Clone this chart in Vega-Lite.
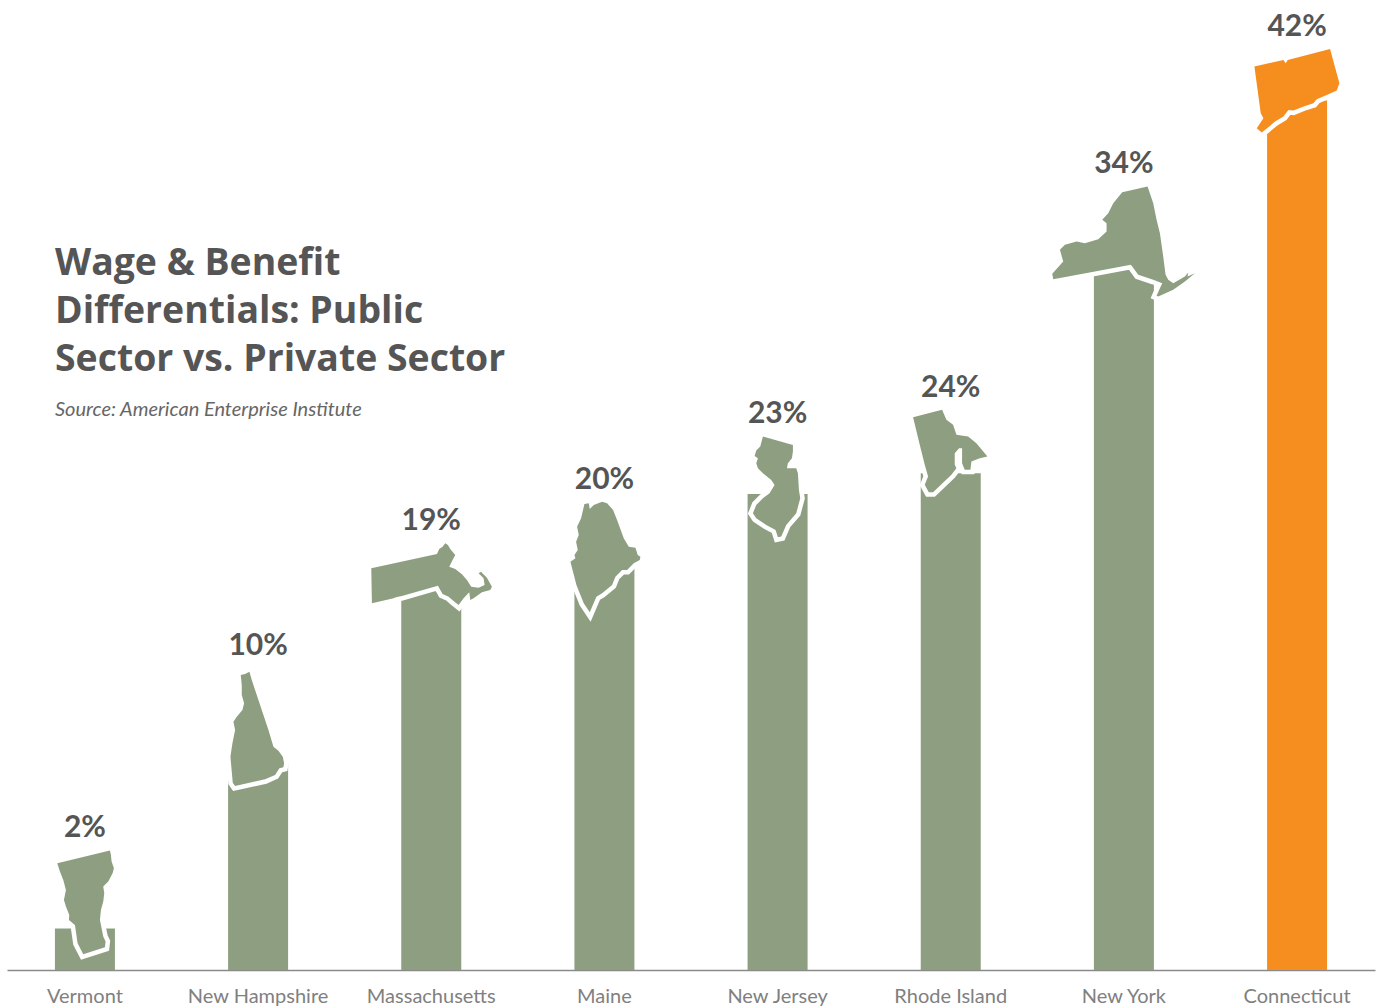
{
  "$schema": "https://vega.github.io/schema/vega-lite/v6.json",
  "autosize": {"type": "none"},
  "padding": {"left": 0, "top": 0, "right": 0, "bottom": 37},
  "width": 1378,
  "height": 970,
  "background": "white",
  "config": {"view": {"stroke": null}},
  "title": {
    "text": ["Wage & Benefit", "Differentials: Public", "Sector vs. Private Sector"],
    "subtitle": "Source: American Enterprise Institute",
    "anchor": "start",
    "frame": "group",
    "orient": "top",
    "dx": 55,
    "offset": -420,
    "font": "Open Sans",
    "fontSize": 37.4,
    "fontWeight": 700,
    "lineHeight": 48,
    "color": "#555555",
    "subtitleFont": "Lato",
    "subtitleFontSize": 20,
    "subtitleFontStyle": "italic",
    "subtitleColor": "#666666",
    "subtitlePadding": 22
  },
  "data": {
    "values": [
      {"state": "Vermont", "differential": 2, "label": "2%"},
      {"state": "New Hampshire", "differential": 10, "label": "10%"},
      {"state": "Massachusetts", "differential": 19, "label": "19%"},
      {"state": "Maine", "differential": 20, "label": "20%"},
      {"state": "New Jersey", "differential": 23, "label": "23%"},
      {"state": "Rhode Island", "differential": 24, "label": "24%"},
      {"state": "New York", "differential": 34, "label": "34%"},
      {"state": "Connecticut", "differential": 42, "label": "42%"}
    ]
  },
  "encoding": {
    "x": {
      "field": "state",
      "type": "nominal",
      "sort": null,
      "scale": {"range": [7, 1375], "paddingInner": 0.6535, "paddingOuter": 0.2768},
      "axis": {
        "title": null,
        "labelAngle": 0,
        "ticks": false,
        "grid": false,
        "labelFont": "Lato",
        "labelFontSize": 20,
        "labelColor": "#808080",
        "labelPadding": 16,
        "domainColor": "#8a8a8a",
        "domainWidth": 1.5
      }
    },
    "y": {
      "field": "differential",
      "type": "quantitative",
      "scale": {"domain": [0, 46.86], "nice": false},
      "axis": null
    },
    "color": {
      "condition": {"test": "datum.state === 'Connecticut'", "value": "#f68d1f"},
      "value": "#8e9f81"
    },
    "shape": {
      "field": "state",
      "type": "nominal",
      "legend": null,
      "scale": {
        "domain": ["Vermont", "New Hampshire", "Massachusetts", "Maine", "New Jersey", "Rhode Island", "New York", "Connecticut"],
        "range": [
          "M-83 -196L75 -234L78 -221L80 -201L87 -181L83 -166L70 -141L55 -126L58 -106L55 -81L48 -56L45 -26L50 -1L55 24L62 39L60 56L-5 77L-22 44L-30 -11L-48 -26L-47 -41L-57 -66L-63 -86L-57 -116L-65 -146L-75 -171Z",
          "M-52 -264L-39 -267L-26 -274L-19 -249L-4 -204L16 -144L31 -99L46 -49L61 -37L74 -19L78 1L76 13L64 16L51 36L21 49L-69 69L-76 59L-79 26L-83 -19L-77 -59L-69 -99L-74 -124L-64 -139L-47 -159L-42 -179L-49 -204L-49 -234Z",
          "M-180 -25L17 -68L24 -83L34 -90L42 -100L50 -95L57 -83L72 -65L64 -50L54 -30L72 -23L92 -7L107 10L120 30L142 33L160 25L157 5L142 -10L149 -15L167 3L182 30L177 40L152 47L127 65L117 70L114 47L97 65L82 85L67 73L52 60L34 52L20 27L-88 58L-106 62L-113 65L-178 80Z",
          "M-102 17L-87 7L-90 -3L-80 -18L-85 -43L-77 -63L-82 -88L-70 -113L-60 -156L-47 -158L-44 -141L-32 -153L-7 -163L8 -158L26 -138L38 -108L58 -53L73 -28L93 -25L100 -3L108 2L106 12L88 22L68 42L53 42L33 62L23 87L-7 112L-24 122L-44 169L-62 142L-84 87Z",
          "M-44 -172L46 -147L46 -127L43 -107L31 -92L28 -77L56 -77L61 -62L64 -12L68 13L56 58L26 93L11 128L1 130L-6 108L-34 93L-64 73L-74 58L-64 33L-44 13L-24 -2L-9 -27L-19 -42L-44 -62L-59 -77L-64 -92L-59 -107L-69 -114L-64 -130L-52 -142Z",
          "M-113 -168L-26 -190L-13 -160L7 -145L17 -115L52 -110L77 -90L110 -50L87 -45L62 -35L59 -10L42 -10L34 -30L34 -75L25 -75L12 -60L12 -25L17 -15L2 5L-53 57L-66 57L-78 35L-68 10L-78 -25L-93 -85Z",
          "M-215 23L-182 -14L-192 -49L-177 -64L-142 -74L-117 -69L-77 -81L-52 -104L-52 -129L-65 -139L-47 -159L-32 -189L-5 -222L71 -239L88 -189L98 -139L108 -99L118 -29L125 26L133 41L148 51L183 31L193 19L191 31L213 21L183 46L148 71L103 91L98 89L108 66L115 51L88 41L43 26L21 -4L-87 16L-212 39Z",
          "M-128 -102L-41 -122L-34 -112L-28 -122L99 -155L127 -52L119 -30L89 -17L59 -4L49 8L24 16L-11 30L-26 28L-41 48L-66 63L-106 96L-121 83L-101 53L-109 38Z"
        ]
      }
    }
  },
  "layer": [
    {"mark": {"type": "bar", "size": 60}, "encoding": {"shape": {"value": null}}},
    {
      "mark": {"type": "point", "filled": true, "size": 0.4444, "stroke": "white", "strokeWidth": 9, "strokeJoin": "miter", "fill": "white", "opacity": 1},
      "encoding": {"color": {"value": null}}
    },
    {
      "mark": {"type": "point", "filled": true, "size": 0.4444, "opacity": 1}
    },
    {
      "mark": {
        "type": "text",
        "baseline": "middle",
        "font": "Lato",
        "fontSize": 30,
        "fontWeight": 700,
        "fill": "#555555",
        "dy": {"expr": "{'Vermont': -100.6, 'New Hampshire': -117, 'Massachusetts': -55.7, 'Maine': -76, 'New Jersey': -80, 'Rhode Island': -85, 'New York': -102, 'Connecticut': -73.6}[datum.state]"}
      },
      "encoding": {
        "text": {"field": "label", "type": "nominal"},
        "color": {"value": null},
        "shape": {"value": null}
      }
    }
  ]
}
